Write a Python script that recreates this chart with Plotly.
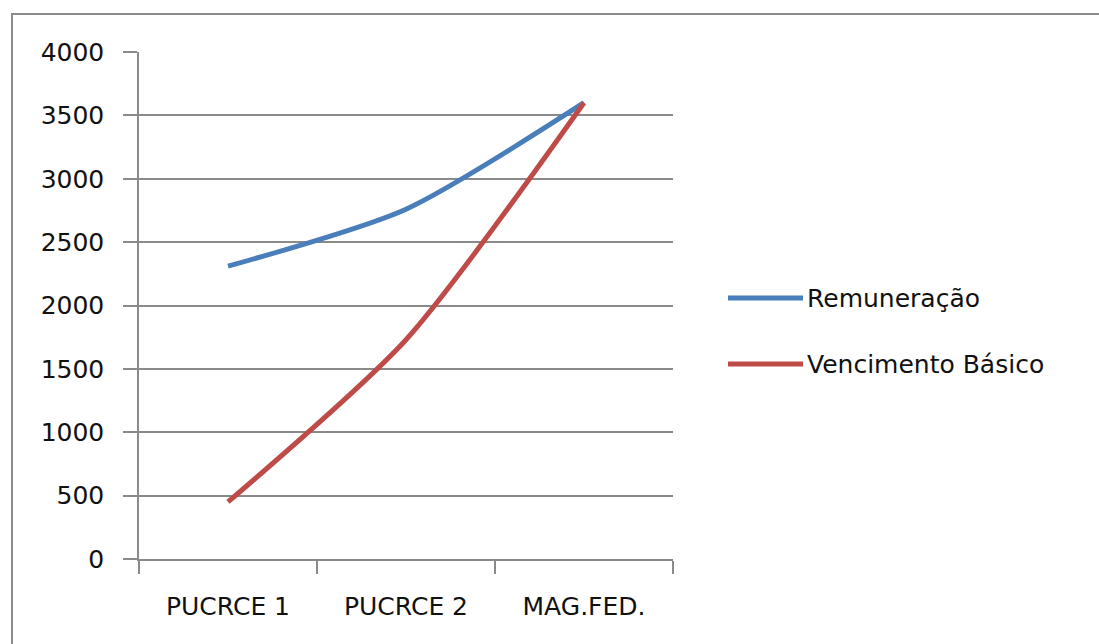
import plotly.graph_objects as go

categories = ["PUCRCE 1", "PUCRCE 2", "MAG.FED."]
remuneracao = [2310, 2760, 3600]
vencimento_basico = [450, 1730, 3600]
series_names = ["Remuneração", "Vencimento Básico"]
series_colors = ["#4A7EBB", "#BE4B48"]
y_ticks = [0, 500, 1000, 1500, 2000, 2500, 3000, 3500, 4000]

FONT = "DejaVu Sans"
FSIZE = 25
GRID = "#8a8a8a"

fig = go.Figure()
for name, vals, col in zip(series_names, [remuneracao, vencimento_basico], series_colors):
    fig.add_trace(go.Scatter(
        x=categories, y=vals, mode="lines", name=name,
        line=dict(color=col, width=5, shape="spline", smoothing=0.7),
        showlegend=False,
    ))

fig.update_layout(
    width=1099, height=644,
    margin=dict(l=139, r=426, t=52, b=85),
    paper_bgcolor="white", plot_bgcolor="white",
    font=dict(family=FONT, size=FSIZE, color="#111111"),
    xaxis=dict(
        type="category", range=[-0.5, 2.5], tickson="boundaries",
        ticks="outside", ticklen=13, tickwidth=1.5, tickcolor=GRID,
        showgrid=False, showline=True, linecolor=GRID, linewidth=1.5,
        ticklabelstandoff=24, zeroline=False,
    ),
    yaxis=dict(
        range=[0, 4000], tickvals=y_ticks, ticks="outside", ticklen=14,
        tickwidth=1.5, tickcolor=GRID, showgrid=True, gridcolor=GRID,
        gridwidth=1.5, showline=True, linecolor=GRID, linewidth=1.5,
        zeroline=False, ticklabelstandoff=14,
    ),
)

# chart border (cut off at right and bottom like the reference)
fig.add_shape(type="rect", xref="paper", yref="paper",
              x0=(12 - 139) / 534, x1=2.0, y0=-0.5, y1=1 + (52 - 14) / 507,
              line=dict(color="#8c8c8c", width=2), layer="below")

# manual legend
leg_y = [(559 - 298) / 507, (559 - 364) / 507]
for name, col, yy in zip(series_names, series_colors, leg_y):
    fig.add_shape(type="line", xref="paper", yref="paper",
                  x0=(728 - 139) / 534, x1=(803 - 139) / 534, y0=yy, y1=yy,
                  line=dict(color=col, width=5))
    fig.add_annotation(xref="paper", yref="paper", x=(805 - 139) / 534, y=yy,
                       text=name, showarrow=False, xanchor="left", yanchor="middle",
                       font=dict(family=FONT, size=FSIZE, color="#111111"))

fig.write_html("out.html")
